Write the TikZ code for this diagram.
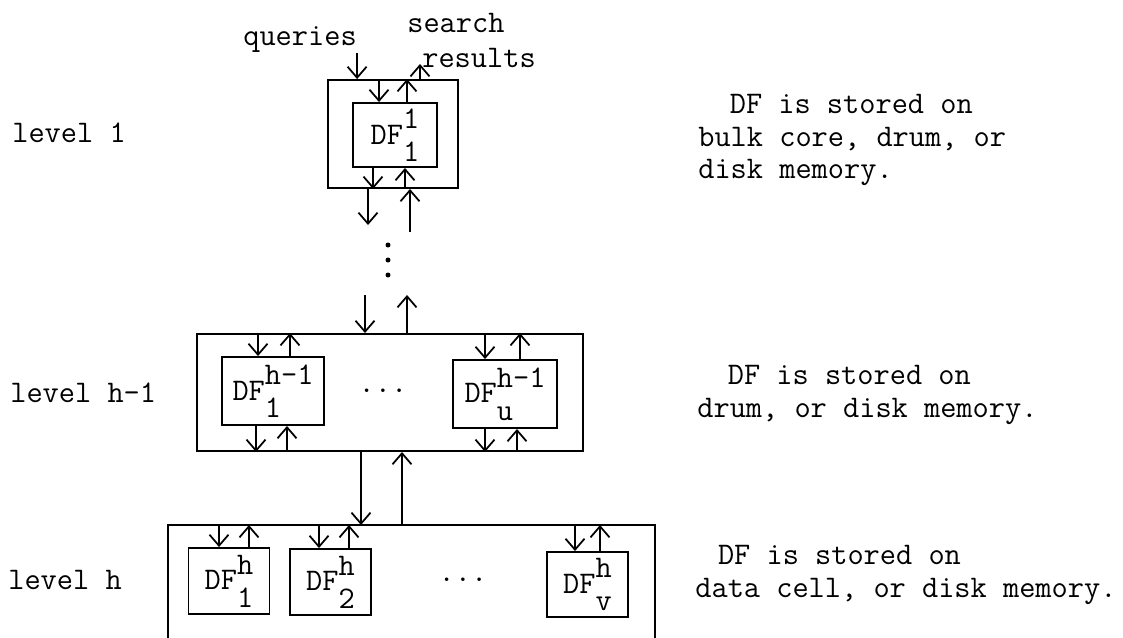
\documentclass[tikz,border=0pt]{standalone}
\usepackage{fontspec}
\usetikzlibrary{arrows.meta, positioning}

% DF with stacked upper and lower index
\newcommand{\dfname}[2]{DF\raisebox{-0.55em}{\rlap{#2}}\raisebox{0.5em}{#1}}

\begin{document}
\begin{tikzpicture}[
    x=0.02cm, y=-0.02cm,
    every node/.style={font=\ttfamily\fontsize{17.9}{18.4}\selectfont},
    outerbox/.style={rectangle, draw, line width=1.1pt, inner sep=0pt},
    dfbox/.style={rectangle, draw, line width=1.1pt, inner sep=0pt, minimum width=1.62cm, minimum height=1.32cm},
    txt/.style={inner sep=0pt, anchor=west},
    note/.style={inner sep=0pt, anchor=west, align=left},
    arrow/.style={-{Straight Barb[length=2.2mm, width=3.8mm]}, line width=1pt},
]
\useasboundingbox (0,0) rectangle (1123,637);

% Level labels
\node[txt] (lev1) at (12,133) {level 1};
\node[txt] (levh1) at (10,393) {level h-1};
\node[txt] (levh) at (8,580) {level h};

% Notes on the right
\node[note] (note1) at (698,140) {\hspace*{1.0em}DF is stored on\\bulk core, drum, or\\disk memory.};
\node[note] (note2) at (697,395) {\hspace*{0.97em}DF is stored on\\drum, or disk memory.};
\node[note] (note3) at (695,575) {\hspace*{0.72em}DF is stored on\\data cell, or disk memory.};

% Level 1
\node[outerbox, minimum width=2.6cm, minimum height=2.16cm] (l1box) at (393,134) {};
\node[dfbox, minimum width=1.68cm, minimum height=1.28cm] (df11) at (395,135) {\dfname{1}{1}};

\node[txt] (queries) at (243,40) {queries};
\node[txt] (search) at (407,23) {search};
\node[txt] (results) at (422,58) {results};
\coordinate (resout) at (420,64);

\draw[arrow] (queries.south east) -- (queries.south east |- l1box.north);
\draw[arrow] (resout |- l1box.north) -- (resout);

\draw[arrow] ([xshift=-0.32cm]df11.north |- l1box.north) -- ([xshift=-0.32cm]df11.north);
\draw[arrow] ([xshift=0.24cm]df11.north) -- ([xshift=0.24cm]df11.north |- l1box.north);
\draw[arrow] ([xshift=-0.44cm]df11.south) -- ([xshift=-0.44cm]df11.south |- l1box.south);
\draw[arrow] ([xshift=0.2cm]df11.south |- l1box.south) -- ([xshift=0.2cm]df11.south);

% Gap between level 1 and level h-1
\coordinate (downend) at (368,225);
\coordinate (upstart) at (410,232);
\coordinate (downstart) at (365,295);
\coordinate (upend) at (407,295);
\foreach \y in {245,260,275}
    \fill (388,\y) circle (0.05cm);

% Level h-1
\node[outerbox, minimum width=7.72cm, minimum height=2.34cm] (midbox) at (390,392.5) {};
\node[dfbox, minimum width=2.04cm, minimum height=1.36cm] (dfa) at (273,391) {\dfname{h-1}{1}};
\node[dfbox, minimum width=2.08cm, minimum height=1.36cm] (dfb) at (505,394) {\dfname{h-1}{u}};
\node (dotsa) at (383,391) {...};

\draw[arrow] (l1box.south -| downend) -- (downend);
\draw[arrow] (upstart) -- (l1box.south -| upstart);
\draw[arrow] (downstart) -- (downstart |- midbox.north);
\draw[arrow] (midbox.north -| upend) -- (upend);

\draw[arrow] ([xshift=-0.3cm]dfa.north |- midbox.north) -- ([xshift=-0.3cm]dfa.north);
\draw[arrow] ([xshift=0.34cm]dfa.north) -- ([xshift=0.34cm]dfa.north |- midbox.north);
\draw[arrow] ([xshift=-0.34cm]dfa.south) -- ([xshift=-0.34cm]dfa.south |- midbox.south);
\draw[arrow] ([xshift=0.28cm]dfa.south |- midbox.south) -- ([xshift=0.28cm]dfa.south);

\draw[arrow] ([xshift=-0.4cm]dfb.north |- midbox.north) -- ([xshift=-0.4cm]dfb.north);
\draw[arrow] ([xshift=0.3cm]dfb.north) -- ([xshift=0.3cm]dfb.north |- midbox.north);
\draw[arrow] ([xshift=-0.4cm]dfb.south) -- ([xshift=-0.4cm]dfb.south |- midbox.south);
\draw[arrow] ([xshift=0.24cm]dfb.south |- midbox.south) -- ([xshift=0.24cm]dfb.south);

% Level h (box runs off the bottom edge)
\node[inner sep=0pt, minimum width=9.72cm, minimum height=3cm, anchor=north west] (hbox) at (168,525) {};
\draw[line width=1.1pt] (hbox.south west) -- (hbox.north west) -- (hbox.north east) -- (hbox.south east);
\node[dfbox] (dfc) at (229,581) {\dfname{h}{1}};
\node[dfbox] (dfd) at (330.5,582) {\dfname{h}{2}};
\node[dfbox, minimum height=1.3cm] (dfe) at (587.5,584.5) {\dfname{h}{v}};
\node (dotsb) at (463,580) {...};

\draw[arrow] ([xshift=-0.58cm]midbox.south) -- ([xshift=-0.58cm]midbox.south |- hbox.north);
\draw[arrow] ([xshift=0.24cm]midbox.south |- hbox.north) -- ([xshift=0.24cm]midbox.south);

\draw[arrow] ([xshift=-0.2cm]dfc.north |- hbox.north) -- ([xshift=-0.2cm]dfc.north);
\draw[arrow] ([xshift=0.4cm]dfc.north) -- ([xshift=0.4cm]dfc.north |- hbox.north);
\draw[arrow] ([xshift=-0.23cm]dfd.north |- hbox.north) -- ([xshift=-0.23cm]dfd.north);
\draw[arrow] ([xshift=0.37cm]dfd.north) -- ([xshift=0.37cm]dfd.north |- hbox.north);
\draw[arrow] ([xshift=-0.25cm]dfe.north |- hbox.north) -- ([xshift=-0.25cm]dfe.north);
\draw[arrow] ([xshift=0.25cm]dfe.north) -- ([xshift=0.25cm]dfe.north |- hbox.north);

\end{tikzpicture}
\end{document}
